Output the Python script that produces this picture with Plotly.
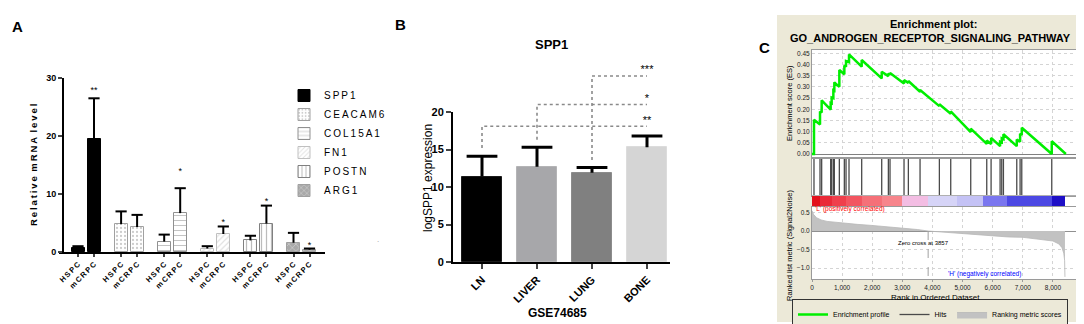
import plotly.graph_objects as go

# Reference canvas is 1084x324; the page body adds an 8px margin, so the figure is
# 1076x316 and every reference pixel coordinate is shifted by OFF.
REF_W, REF_H = 1084, 324
OFF = 8
W, H = REF_W - OFF, REF_H - OFF
FONT = "Arial, 'Liberation Sans', Helvetica, sans-serif"

# ---------------- Panel A data ----------------
a_genes = ["SPP1", "CEACAM6", "COL15A1", "FN1", "POSTN", "ARG1"]
a_groups = ["HSPC", "mCRPC"]
a_hspc = [0.7, 4.8, 1.8, 0.6, 2.0, 1.6]
a_hspc_err = [0.3, 2.2, 1.2, 0.4, 0.8, 1.7]
a_mcrpc = [19.5, 4.3, 6.7, 3.1, 4.9, 0.4]
a_mcrpc_err = [7.0, 2.1, 4.3, 1.3, 3.1, 0.2]
a_sig = ["**", "", "*", "*", "*", "*"]
a_sig_level = [27.8, None, 13.8, 5.0, 8.7, 1.1]
a_yticks = [0, 10, 20, 30]

# ---------------- Panel B data ----------------
b_sites = ["LN", "LIVER", "LUNG", "BONE"]
b_mean = [11.4, 12.7, 11.9, 15.3]
b_err = [2.7, 2.6, 0.7, 1.5]
b_yticks = [0, 5, 10, 15, 20]
b_comp_from = ["LN", "LIVER", "LUNG"]
b_comp_to = ["BONE", "BONE", "BONE"]
b_comp_sig = ["**", "*", "***"]
b_comp_low = [15.2, 16.3, 13.6]
b_comp_high = [18.1, 21.0, 24.8]

# ---------------- Panel C data ----------------
c_es_rank = [0, 66, 66, 266, 266, 321, 321, 620, 620, 653, 653, 709, 709, 742, 742,
             908, 908, 1074, 1074, 1130, 1130, 1229, 1229, 1650, 1650, 2315, 2315,
             2536, 2536, 2591, 2591, 3056, 3056, 3200, 3200, 3588, 3588, 4230, 4230,
             4607, 4607, 5271, 5271, 5803, 5803, 5947, 5947, 6246, 6246, 6301, 6301,
             6357, 6357, 6800, 6800, 6910, 6910, 6966, 6966, 7962, 7962, 8430]
c_es = [0, 0, 0.153, 0.132, 0.19, 0.185, 0.24, 0.198, 0.228, 0.226, 0.252, 0.249, 0.285,
        0.283, 0.32, 0.30, 0.375, 0.356, 0.395, 0.39, 0.415, 0.41, 0.445, 0.39, 0.42,
        0.3375, 0.3675, 0.348, 0.36, 0.355, 0.362, 0.315, 0.33, 0.318, 0.326, 0.278,
        0.286, 0.214, 0.222, 0.18, 0.19, 0.098, 0.113, 0.045, 0.06, 0.045, 0.072, 0.035,
        0.055, 0.052, 0.07, 0.066, 0.088, 0.035, 0.065, 0.055, 0.09, 0.085, 0.117, 0.0,
        0.057, 0.0]
c_hits = [66, 266, 321, 620, 653, 709, 742, 908, 1074, 1130, 1229, 1650, 2315, 2536,
          2591, 3056, 3200, 3588, 4230, 4607, 5271, 5803, 5947, 6246, 6301, 6357, 6800,
          6910, 6966, 7962]
c_metric_rank = [0, 50, 150, 300, 500, 1000, 1500, 2000, 2500, 3000, 3500, 3857, 4500,
                 5000, 5500, 6000, 6500, 7000, 7500, 8000, 8200, 8300, 8360, 8390, 8400]
c_metric = [0.55, 0.45, 0.36, 0.30, 0.26, 0.21, 0.18, 0.15, 0.12, 0.085, 0.04, 0.0,
            -0.04, -0.07, -0.10, -0.13, -0.16, -0.17, -0.21, -0.27, -0.35, -0.45, -0.6,
            -0.8, -1.24]
c_zero_cross = 3857
c_band_edges = [0, 266, 650, 1130, 1650, 2315, 2980, 3860, 4800, 5690, 6470, 7960, 8400]
c_band_colors = ["#e3101c", "#ea2a38", "#ef3f4c", "#f25560", "#f57078", "#f7858c",
                 "#f3bde3", "#d6d4f7", "#c4c2f5", "#7a76ef", "#4c48e3", "#1e0fc6"]
c_xticks = [0, 1000, 2000, 3000, 4000, 5000, 6000, 7000, 8000]
c_es_ticks = [0, 0.05, 0.10, 0.15, 0.20, 0.25, 0.30, 0.35, 0.40, 0.45]
c_metric_ticks = [-1.0, -0.5, 0.0, 0.5]


# ---------------- helpers (reference pixel -> paper fraction) ----------------
def px_x(p):
    return (p - OFF) / W


def px_y(p):
    return 1 - (p - OFF) / H


def xd(a, b):
    return [px_x(a), px_x(b)]


def yd(top, bottom):
    return [px_y(bottom), px_y(top)]


def spaced(s):
    return "\u2009".join(s)


fig = go.Figure()

# ================= Panel A =================
a_unit = 43.1
a_off = 8 / a_unit
a_w = 13 / a_unit
a_styles = {
    "SPP1": dict(bg="#000000", fg="#000000", line="#000000", shape="", size=6, sol=0.3),
    "CEACAM6": dict(bg="#ffffff", fg="#9a9a9a", line="#a0a0a0", shape=".", size=4, sol=0.25),
    "COL15A1": dict(bg="#ffffff", fg="#8a8a8a", line="#909090", shape="-", size=5, sol=0.2),
    "FN1": dict(bg="#ffffff", fg="#c4c4c4", line="#c0c0c0", shape="/", size=4, sol=0.3),
    "POSTN": dict(bg="#ffffff", fg="#7a7a7a", line="#808080", shape="|", size=5, sol=0.25),
    "ARG1": dict(bg="#a9a9a9", fg="#e8e8e8", line="#a0a0a0", shape="x", size=5, sol=0.3),
}
cap_x, cap_y = [], []
for i, g in enumerate(a_genes):
    xs = [i - a_off, i + a_off]
    ys = [a_hspc[i], a_mcrpc[i]]
    es = [a_hspc_err[i], a_mcrpc_err[i]]
    st = a_styles[g]
    fig.add_trace(go.Bar(
        x=xs, y=ys, width=a_w, name=spaced(g), xaxis="x", yaxis="y",
        marker=dict(color=st["bg"], line=dict(color=st["line"], width=1),
                    pattern=dict(shape=st["shape"], fgcolor=st["fg"], bgcolor=st["bg"],
                                 size=st["size"], solidity=st["sol"], fillmode="overlay")),
        error_y=dict(type="data", symmetric=False, array=es, arrayminus=[0, 0], width=0,
                     thickness=2, color="black"),
        legend="legend", showlegend=True,
    ))
    cap_x += xs
    cap_y += [ys[0] + es[0], ys[1] + es[1]]

fig.add_trace(go.Scatter(x=cap_x, y=cap_y, mode="markers", xaxis="x", yaxis="y",
                         marker=dict(symbol="line-ew", size=8, line=dict(width=2, color="black")),
                         showlegend=False, hoverinfo="skip"))
sx = [i + a_off for i, s in enumerate(a_sig) if s]
sy = [a_sig_level[i] for i, s in enumerate(a_sig) if s]
st_ = [s for s in a_sig if s]
fig.add_trace(go.Scatter(x=sx, y=sy, mode="text", text=st_, xaxis="x", yaxis="y",
                         textfont=dict(family=FONT, size=9, color="black"),
                         showlegend=False, hoverinfo="skip", cliponaxis=False))

a_tickvals, a_ticktext = [], []
for i in range(len(a_genes)):
    a_tickvals += [i - a_off, i + a_off]
    a_ticktext += [spaced(a_groups[0]), spaced(a_groups[1])]

# ================= Panel B =================
b_unit = 55.0
b_x = list(range(len(b_sites)))
b_colors = ["#000000", "#a7a7aa", "#808080", "#d5d5d5"]
b_lines = ["#1a1a1a", "#b4b4b6", "#8c8c8c", "#dcdcdc"]
fig.add_trace(go.Bar(
    x=b_x, y=b_mean, width=40 / b_unit, xaxis="x2", yaxis="y2",
    marker=dict(color=b_colors, line=dict(color=b_lines, width=1)),
    error_y=dict(type="data", symmetric=False, array=b_err, arrayminus=[0] * 4, width=0,
                 thickness=3, color="black"),
    showlegend=False,
))
fig.add_trace(go.Scatter(x=b_x, y=[m + e for m, e in zip(b_mean, b_err)], mode="markers",
                         xaxis="x2", yaxis="y2",
                         marker=dict(symbol="line-ew", size=22, line=dict(width=3, color="black")),
                         showlegend=False, hoverinfo="skip", cliponaxis=False))
for f, t, s, lo, hi in zip(b_comp_from, b_comp_to, b_comp_sig, b_comp_low, b_comp_high):
    i0, i1 = b_sites.index(f), b_sites.index(t)
    fig.add_trace(go.Scatter(x=[i0, i0, i1], y=[lo, hi, hi], mode="lines", xaxis="x3", yaxis="y3",
                             line=dict(color="#8a8a8a", width=1.6, dash="dot"),
                             showlegend=False, hoverinfo="skip"))
    fig.add_trace(go.Scatter(x=[i1], y=[hi], mode="text", text=[s], textposition="top center",
                             xaxis="x3", yaxis="y3",
                             textfont=dict(family=FONT, size=11, color="black"),
                             showlegend=False, hoverinfo="skip", cliponaxis=False))

# ================= Panel C =================
fig.add_trace(go.Scatter(x=c_es_rank, y=c_es, mode="lines", xaxis="x4", yaxis="y4",
                         line=dict(color="#00ee00", width=2.5), name="Enrichment profile",
                         legend="legend2"))
hx, hy = [], []
for h in c_hits:
    hx += [h, h, None]
    hy += [0, 1, None]
fig.add_trace(go.Scatter(x=hx, y=hy, mode="lines", xaxis="x5", yaxis="y5",
                         line=dict(color="#4a4a4a", width=1.3), name="Hits", legend="legend2"))
fig.add_trace(go.Scatter(x=c_metric_rank, y=c_metric, mode="lines", fill="tozeroy",
                         fillcolor="#c2c2c2", xaxis="x7", yaxis="y7",
                         line=dict(color="#b8b8b8", width=0.8), name="Ranking metric scores",
                         legend="legend2"))
band_c = [(a + b) / 2 for a, b in zip(c_band_edges[:-1], c_band_edges[1:])]
band_w = [b - a for a, b in zip(c_band_edges[:-1], c_band_edges[1:])]
fig.add_trace(go.Bar(x=band_c, y=[1] * len(band_c), width=band_w, base=0, xaxis="x6", yaxis="y6",
                     marker=dict(color=c_band_colors, line=dict(width=0)), showlegend=False,
                     hoverinfo="skip"))
fig.add_trace(go.Scatter(x=[c_zero_cross, c_zero_cross], y=[0, -1.3], mode="lines",
                         xaxis="x7", yaxis="y7",
                         line=dict(color="#a0a0a0", width=1, dash="dash"), showlegend=False,
                         hoverinfo="skip"))

# ---------------- axes ----------------
lab = dict(family=FONT, color="black")
C_DOM = xd(812, 1077)
C_RANGE = [0, 8800]
grid = dict(showgrid=True, gridcolor="#d4d4d4", griddash="dot", gridwidth=1)

layout = dict(
    width=W, height=H, margin=dict(l=0, r=0, t=0, b=0, autoexpand=False), autosize=False,
    paper_bgcolor="white", plot_bgcolor="rgba(0,0,0,0)",
    font=dict(family=FONT, color="black"),
    # Panel A
    xaxis=dict(domain=xd(59, 325), range=[-(86 - 59) / a_unit, 5 + (325 - 301.5) / a_unit],
               anchor="y", showline=True, linewidth=2, linecolor="black", ticks="outside",
               ticklen=3, tickwidth=1.5, tickvals=a_tickvals, ticktext=a_ticktext,
               tickangle=-45, tickfont=dict(size=7.5, weight="bold", **lab), showgrid=False,
               zeroline=False),
    yaxis=dict(domain=yd(78, 252), range=[0, 30], anchor="free", position=px_x(63),
               showline=True, linewidth=2, linecolor="black", ticks="outside", ticklen=4,
               tickwidth=2, tickvals=a_yticks, tickfont=dict(size=9, weight="bold", **lab),
               showgrid=False, zeroline=False),
    # Panel B
    xaxis2=dict(domain=xd(453, 670), range=[-(482 - 453) / b_unit, 3 + (670 - 647) / b_unit],
                anchor="y2", showline=True, linewidth=2, linecolor="black", ticks="outside",
                ticklen=5, tickwidth=2, tickvals=b_x, ticktext=b_sites, tickangle=-45,
                tickfont=dict(size=11, weight="bold", **lab), showgrid=False, zeroline=False),
    yaxis2=dict(domain=yd(112, 262), range=[0, 20], anchor="x2", showline=True, linewidth=2,
                linecolor="black", ticks="outside", ticklen=5, tickwidth=2, tickvals=b_yticks,
                tickfont=dict(size=11, weight="bold", **lab), showgrid=False, zeroline=False),
    xaxis3=dict(domain=xd(453, 670), range=[-(482 - 453) / b_unit, 3 + (670 - 647) / b_unit],
                anchor="y3", visible=False),
    yaxis3=dict(domain=yd(60, 262), range=[0, (262 - 60) / 7.5], anchor="x3", visible=False),
    # Panel C: ES
    xaxis4=dict(domain=C_DOM, range=C_RANGE, anchor="y4", showline=True, mirror=True,
                linecolor="#9a9a9a", linewidth=1, showticklabels=False, ticks="",
                tickvals=c_xticks, zeroline=False, **grid),
    yaxis4=dict(domain=yd(50, 157), range=[-0.0134, 0.4646], anchor="x4", showline=True,
                mirror=True, linecolor="#9a9a9a", linewidth=1, tickvals=c_es_ticks,
                tickformat=".2f", ticks="", tickfont=dict(size=6.5, family=FONT, color="#222"),
                zeroline=True, zerolinecolor="#808080", zerolinewidth=1, **grid),
    # hits
    xaxis5=dict(domain=C_DOM, range=C_RANGE, anchor="y5", showline=True, mirror=True,
                linecolor="#9a9a9a", linewidth=1, showticklabels=False, ticks="",
                showgrid=False, zeroline=False),
    yaxis5=dict(domain=yd(159, 196), range=[0, 1], anchor="x5", showline=True, mirror=True,
                linecolor="#9a9a9a", linewidth=1, showticklabels=False, ticks="",
                showgrid=False, zeroline=False),
    # color band
    xaxis6=dict(domain=C_DOM, range=C_RANGE, anchor="y6", showline=True, mirror=True,
                linecolor="#b0b0b0", linewidth=1, showticklabels=False, ticks="",
                showgrid=False, zeroline=False),
    yaxis6=dict(domain=yd(196, 206), range=[0, 1], anchor="x6", showline=False,
                showticklabels=False, ticks="", showgrid=False, zeroline=False),
    # metric
    xaxis7=dict(domain=C_DOM, range=C_RANGE, anchor="y7", showline=True, mirror=True,
                linecolor="#9a9a9a", linewidth=1, tickvals=c_xticks, tickformat=",d",
                ticks="outside", ticklen=2, tickcolor="#9a9a9a",
                tickfont=dict(size=6.5, family=FONT, color="#222"), zeroline=False, **grid),
    yaxis7=dict(domain=yd(207, 279), range=[-1.297, 0.649], anchor="x7", showline=True,
                mirror=True, linecolor="#9a9a9a", linewidth=1, tickvals=c_metric_ticks,
                tickformat=".1f", ticks="", tickfont=dict(size=6.5, family=FONT, color="#222"),
                zeroline=True, zerolinecolor="#909090", zerolinewidth=1, **grid),
    legend=dict(x=px_x(284), y=px_y(81), xanchor="left", yanchor="top",
                font=dict(size=10, family=FONT, color="black"), bgcolor="rgba(0,0,0,0)",
                itemwidth=30, traceorder="normal", tracegroupgap=0),
    legend2=dict(orientation="h", x=px_x(930), y=px_y(314.5), xanchor="center",
                 yanchor="middle", font=dict(size=7, family=FONT, color="black"),
                 bgcolor="#ece9d8", bordercolor="#333333", borderwidth=1, itemwidth=30,
                 traceorder="normal"),
    bargap=0,
)
fig.update_layout(**layout)

# ---------------- background shapes (panel C) ----------------
shapes = [dict(type="rect", xref="paper", yref="paper", x0=px_x(777), x1=px_x(1082),
               y0=px_y(322), y1=px_y(15), fillcolor="#ece9d8", line=dict(width=0),
               layer="below")]
for top, bot in [(50, 157), (159, 196), (196, 206), (207, 279)]:
    shapes.append(dict(type="rect", xref="paper", yref="paper", x0=C_DOM[0], x1=C_DOM[1],
                       y0=px_y(bot), y1=px_y(top), fillcolor="white", line=dict(width=0),
                       layer="below"))
fig.update_layout(shapes=shapes)

# ---------------- annotations ----------------
ann = []


def note(text, x, y, size, bold=False, color="black", angle=0, xanchor="center",
         yanchor="middle", **kw):
    ann.append(dict(text=text, x=x, y=y, xref=kw.get("xref", "paper"),
                    yref=kw.get("yref", "paper"), showarrow=False, textangle=angle,
                    xanchor=xanchor, yanchor=yanchor,
                    font=dict(family=FONT, size=size, color=color,
                              weight="bold" if bold else "normal")))


note("A", px_x(17), px_y(27), 15, bold=True)
note("B", px_x(400), px_y(25), 15, bold=True)
note("C", px_x(764), px_y(47), 15, bold=True)
note(spaced("Relative") + "\u2009 " + spaced("mRNA") + "\u2009 " + spaced("level"),
     px_x(33), px_y(165), 9.5, bold=True, angle=-90)
note(".", px_x(378), px_y(239), 8, color="#999999")
note("SPP1", px_x(551), px_y(45), 13, bold=True)
note("logSPP1 expression", px_x(428), px_y(178), 12, angle=-90)
note("GSE74685", px_x(557), px_y(313), 12, bold=True)
note("Enrichment plot:", px_x(933), px_y(24), 11, bold=True)
note("GO_ANDROGEN_RECEPTOR_SIGNALING_PATHWAY", px_x(930), px_y(38), 11, bold=True)
note("Enrichment score (ES)", px_x(789), px_y(103), 7.5, angle=-90)
note("Ranked list metric (Signal2Noise)", px_x(789), px_y(246), 7.5, angle=-90)
note("Rank in Ordered Dataset", px_x(935), px_y(297), 8)
note("'L' (positively correlated)", 40, 0.59, 6.5, color="#ff0000", xanchor="left",
     xref="x7", yref="y7")
note("'H' (negatively correlated)", 4450, -1.16, 6.5, color="#0000ff", xanchor="left",
     xref="x7", yref="y7")
note("Zero cross at " + str(c_zero_cross), 3700, -0.33, 6, xref="x7", yref="y7")
fig.update_layout(annotations=ann)

fig.write_html("out.html")
